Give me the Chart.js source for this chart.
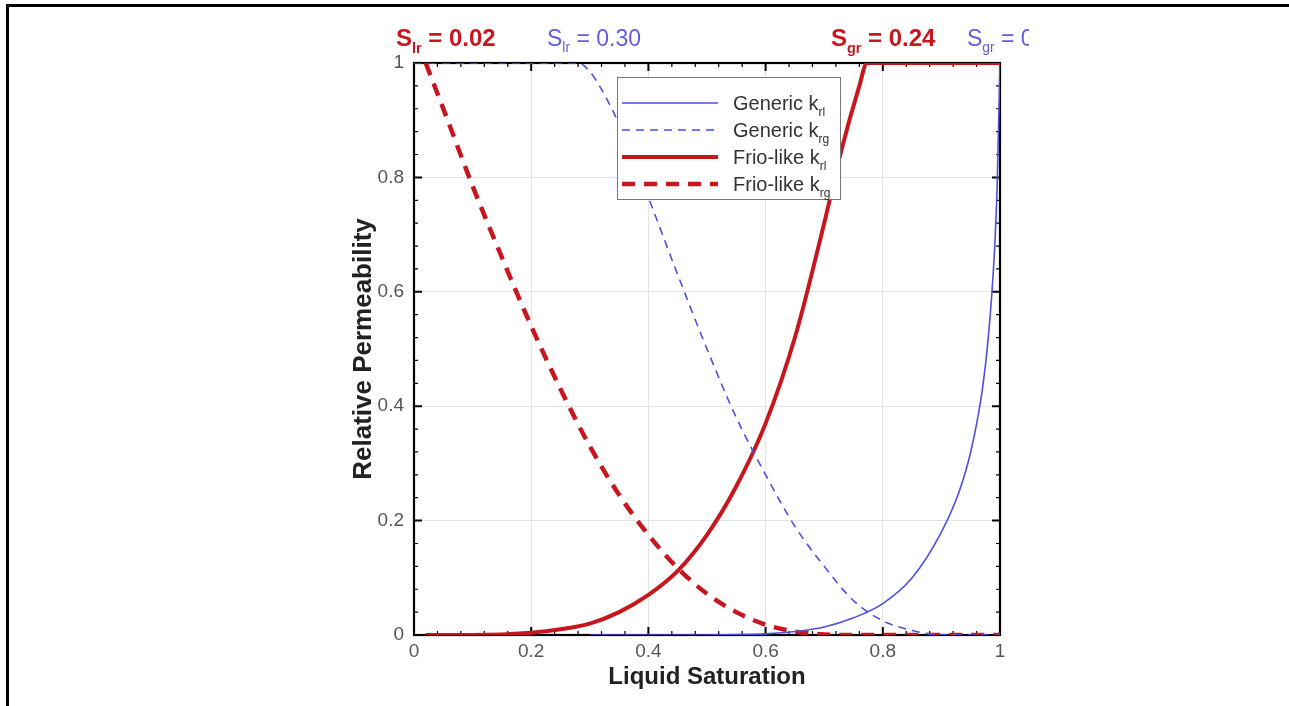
<!DOCTYPE html>
<html>
<head>
<meta charset="utf-8">
<script src="https://cdn.jsdelivr.net/npm/chart.js@4/dist/chart.umd.min.js"></script>
<style>
  html, body { margin: 0; padding: 0; background: #fff; }
  #wrap { position: relative; width: 1289px; height: 706px; }
  #frame { position: absolute; left: 6px; top: 4px; right: -10px; bottom: -10px;
           border-left: 3px solid #000; border-top: 3px solid #000; pointer-events: none; }
</style>
</head>
<body>
<div id="wrap">
  <canvas id="kr" width="1289" height="706"></canvas>
  <div id="frame"></div>
</div>
<script>
// liquid saturation points and relative permeabilities
let genKrlX = [0.30, 0.50, 0.60, 0.65, 0.70, 0.75, 0.80, 0.85, 0.90, 0.93, 0.95, 0.97, 0.98, 0.99, 0.995, 1.0];
let genKrlY = [0.0, 0.0, 0.002, 0.006, 0.014, 0.03, 0.055, 0.1, 0.18, 0.25, 0.32, 0.43, 0.52, 0.66, 0.78, 1.0];

let genKrgX = [0.0, 0.28, 0.30, 0.33, 0.36, 0.40, 0.45, 0.50, 0.55, 0.60, 0.65, 0.70, 0.75, 0.80, 0.85, 0.90, 1.0];
let genKrgY = [1.0, 1.0, 0.985, 0.935, 0.87, 0.765, 0.63, 0.5, 0.38, 0.28, 0.19, 0.12, 0.06, 0.025, 0.008, 0.0, 0.0];

let frioKrlX = [0.02, 0.10, 0.20, 0.25, 0.30, 0.35, 0.40, 0.45, 0.50, 0.55, 0.60, 0.65, 0.70, 0.73, 0.76, 0.773, 1.0];
let frioKrlY = [0.0, 0.0, 0.004, 0.01, 0.02, 0.04, 0.07, 0.112, 0.175, 0.26, 0.37, 0.52, 0.72, 0.85, 0.96, 1.0, 1.0];

let frioKrgX = [0.02, 0.05, 0.10, 0.15, 0.20, 0.25, 0.30, 0.35, 0.40, 0.45, 0.50, 0.55, 0.60, 0.65, 0.70, 0.76, 1.0];
let frioKrgY = [1.0, 0.92, 0.785, 0.66, 0.54, 0.43, 0.33, 0.245, 0.175, 0.117, 0.072, 0.04, 0.018, 0.006, 0.001, 0.0, 0.0];

let xTicks = [0, 0.2, 0.4, 0.6, 0.8, 1];
let yTicks = [0, 0.2, 0.4, 0.6, 0.8, 1];

let seriesNames = ["Generic k|rl", "Generic k|rg", "Frio-like k|rl", "Frio-like k|rg"];
let topNotes = [
    { text: "S|lr| = 0.02", color: "#c8161e", bold: true, x: 396 },
    { text: "S|lr| = 0.30", color: "#5f5fdc", bold: false, x: 547 },
    { text: "S|gr| = 0.24", color: "#c8161e", bold: true, x: 831 },
    { text: "S|gr| = 0.05", color: "#5f5fdc", bold: false, x: 967 }
];

const BLUE = "#4f4fe0";
const RED = "#c8161e";
const FONT = "'Liberation Sans', Arial, sans-serif";

function pts(xs, ys) {
    return xs.map((x, i) => ({ x: x, y: ys[i] }));
}

let styles = [
    { color: BLUE, width: 1.6, dash: [] },
    { color: BLUE, width: 1.6, dash: [8, 6] },
    { color: RED, width: 4, dash: [] },
    { color: RED, width: 4.5, dash: [13, 9] }
];
let allData = [pts(genKrlX, genKrlY), pts(genKrgX, genKrgY), pts(frioKrlX, frioKrlY), pts(frioKrgX, frioKrgY)];

// draw "k|rl" style text with subscripts
function subText(ctx, text, x, y, size, bold, color) {
    let parts = text.split("|");
    ctx.fillStyle = color;
    ctx.textBaseline = "alphabetic";
    ctx.textAlign = "left";
    for (let i = 0; i < parts.length; i++) {
        let isSub = i % 2 === 1;
        let s = isSub ? size * 0.6 : size;
        ctx.font = (bold ? "bold " : "") + s + "px " + FONT;
        ctx.fillText(parts[i], x, y + (isSub ? size * 0.28 : 0));
        x += ctx.measureText(parts[i]).width;
    }
}

// inward ticks + frame (drawn under the curves)
const framePlugin = {
    id: "frame",
    beforeDatasetsDraw(chart) {
        let ctx = chart.ctx;
        let a = chart.chartArea;
        let xs = chart.scales.x, ys = chart.scales.y;
        ctx.save();
        ctx.strokeStyle = "#000";
        for (let i = 1; i < 25; i++) {
            let v = i * 0.04;
            let major = i % 5 === 0;
            let len = major ? 8 : 4;
            let px = xs.getPixelForValue(v);
            let py = ys.getPixelForValue(v);
            ctx.lineWidth = major ? 2 : 1.2;
            ctx.beginPath();
            ctx.moveTo(px, a.bottom); ctx.lineTo(px, a.bottom - len);
            ctx.moveTo(px, a.top); ctx.lineTo(px, a.top + len);
            ctx.moveTo(a.left, py); ctx.lineTo(a.left + len, py);
            ctx.moveTo(a.right, py); ctx.lineTo(a.right - len, py);
            ctx.stroke();
        }
        ctx.lineWidth = 2.2;
        ctx.strokeRect(a.left, a.top, a.right - a.left, a.bottom - a.top);
        ctx.restore();
    },
    afterDraw(chart) {
        let ctx = chart.ctx;
        // residual saturation notes above the plot, clipped like the original
        ctx.save();
        ctx.beginPath();
        ctx.rect(0, 0, 1029, 706);
        ctx.clip();
        topNotes.forEach(n => subText(ctx, n.text, n.x, 46, n.bold ? 24 : 23, n.bold, n.color));
        ctx.restore();

        // legend box
        ctx.save();
        let bx = 617, by = 77, bw = 223, bh = 122;
        ctx.fillStyle = "#fff";
        ctx.fillRect(bx, by, bw, bh);
        ctx.strokeStyle = "#777";
        ctx.lineWidth = 1;
        ctx.strokeRect(bx + 0.5, by + 0.5, bw, bh);
        seriesNames.forEach((name, i) => {
            let y = 103 + i * 27;
            let st = styles[i];
            ctx.strokeStyle = st.color;
            ctx.lineWidth = st.width;
            ctx.setLineDash(st.dash);
            ctx.beginPath();
            ctx.moveTo(622, y);
            ctx.lineTo(718, y);
            ctx.stroke();
            ctx.setLineDash([]);
            subText(ctx, name, 733, y + 7, 20, false, "#333");
        });
        ctx.restore();
    }
};

function tickFmt(v) {
    return String(Math.round(v * 10) / 10);
}

let ctx = document.getElementById("kr").getContext("2d");
let chart = new Chart(ctx, {
    type: "line",
    data: {
        datasets: allData.map((d, i) => ({
            label: seriesNames[i].replace("|", ""),
            data: d,
            borderColor: styles[i].color,
            borderWidth: styles[i].width,
            borderDash: styles[i].dash,
            pointRadius: 0,
            fill: false,
            cubicInterpolationMode: "monotone"
        }))
    },
    options: {
        responsive: false,
        animation: false,
        layout: { padding: { left: 338, right: 289, top: 63, bottom: 0 } },
        plugins: { legend: { display: false }, tooltip: { enabled: false } },
        scales: {
            x: {
                type: "linear", min: 0, max: 1,
                afterFit(s) { s.height = 71; },
                afterBuildTicks(s) { s.ticks = xTicks.map(v => ({ value: v })); },
                border: { display: false },
                grid: { color: "#e4e4e4", lineWidth: 1, drawTicks: false },
                ticks: { padding: 5, color: "#555", callback: tickFmt, font: { family: FONT, size: 19 } },
                title: { display: true, text: "Liquid Saturation", color: "#222",
                         padding: { top: 0, bottom: 14 }, font: { family: FONT, size: 24, weight: "bold" } }
            },
            y: {
                type: "linear", min: 0, max: 1,
                afterFit(s) { s.width = 76; },
                afterBuildTicks(s) { s.ticks = yTicks.map(v => ({ value: v })); },
                border: { display: false },
                grid: { color: "#e4e4e4", lineWidth: 1, drawTicks: false },
                ticks: { padding: 10, color: "#555", callback: tickFmt, font: { family: FONT, size: 19 } },
                title: { display: true, text: "Relative Permeability", color: "#222",
                         padding: { top: 10, bottom: 0 }, font: { family: FONT, size: 26, weight: "bold" } }
            }
        }
    },
    plugins: [framePlugin]
});
</script>
</body>
</html>
